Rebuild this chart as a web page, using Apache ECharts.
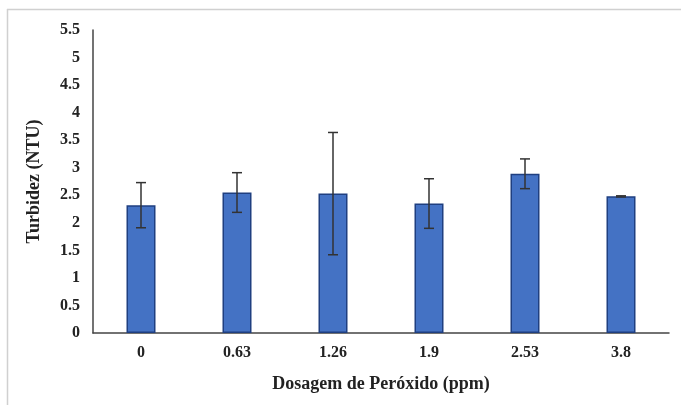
<!DOCTYPE html>
<html>
<head>
<meta charset="utf-8">
<script src="https://cdn.jsdelivr.net/npm/echarts@6/dist/echarts.min.js"></script>
<style>html,body{margin:0;padding:0;background:#fff;}#c{width:681px;height:405px;}</style>
</head>
<body>
<div id="c"></div>
<script>
var categories = ['0', '0.63', '1.26', '1.9', '2.53', '3.8'];
var turbidez = [2.32, 2.55, 2.53, 2.35, 2.89, 2.48];
var desvio = [0.41, 0.36, 1.11, 0.45, 0.27, 0.01];
var yTicks = [0, 0.5, 1, 1.5, 2, 2.5, 3, 3.5, 4, 4.5, 5, 5.5];

var errData = categories.map(function (c, i) {
  return [i, turbidez[i] - desvio[i], turbidez[i] + desvio[i]];
});

var chart = echarts.init(document.getElementById('c'));
var fontFam = '"Liberation Serif", "Times New Roman", serif';
chart.setOption({
  animation: false,
  backgroundColor: '#fff',
  grid: { left: 93, right: 12, top: 30, bottom: 72 },
  graphic: [
    { type: 'line', shape: { x1: 7, y1: 9.5, x2: 681, y2: 9.5 }, style: { stroke: '#d0d0d0', lineWidth: 1.5 } },
    { type: 'line', shape: { x1: 7.5, y1: 9, x2: 7.5, y2: 405 }, style: { stroke: '#d0d0d0', lineWidth: 1.5 } }
  ],
  xAxis: {
    type: 'category',
    data: categories,
    name: 'Dosagem de Peróxido (ppm)',
    nameLocation: 'middle',
    nameGap: 42,
    nameTextStyle: { fontFamily: fontFam, fontWeight: 'bold', fontSize: 18, color: '#222' },
    axisLine: { lineStyle: { color: '#444', width: 1.5 } },
    axisTick: { show: false },
    axisLabel: { fontFamily: fontFam, fontWeight: 'bold', fontSize: 16, color: '#222', margin: 12 }
  },
  yAxis: {
    type: 'value',
    min: 0,
    max: 5.5,
    interval: 0.5,
    name: 'Turbidez (NTU)',
    nameLocation: 'middle',
    nameGap: 50,
    nameTextStyle: { fontFamily: fontFam, fontWeight: 'bold', fontSize: 18, color: '#222' },
    axisLine: { show: true, lineStyle: { color: '#444', width: 1.5 } },
    axisTick: { show: false },
    splitLine: { show: false },
    axisLabel: {
      fontFamily: fontFam, fontWeight: 'bold', fontSize: 16, color: '#222', margin: 13,
      formatter: function (v) {
        for (var k = 0; k < yTicks.length; k++) { if (Math.abs(yTicks[k] - v) < 1e-9) return String(yTicks[k]); }
        return '';
      }
    }
  },
  series: [
    {
      type: 'bar',
      data: turbidez,
      barWidth: 29,
      itemStyle: { color: '#4472C4', borderColor: '#1F3F80', borderWidth: 1.5 }
    },
    {
      type: 'custom',
      data: errData,
      z: 10,
      renderItem: function (params, api) {
        var x = api.value(0);
        var lo = api.coord([x, api.value(1)]);
        var hi = api.coord([x, api.value(2)]);
        var hw = 5;
        var st = { stroke: '#333', lineWidth: 1.5 };
        return {
          type: 'group',
          children: [
            { type: 'line', shape: { x1: hi[0], y1: hi[1], x2: lo[0], y2: lo[1] }, style: st },
            { type: 'line', shape: { x1: hi[0] - hw, y1: hi[1], x2: hi[0] + hw, y2: hi[1] }, style: st },
            { type: 'line', shape: { x1: lo[0] - hw, y1: lo[1], x2: lo[0] + hw, y2: lo[1] }, style: st }
          ]
        };
      }
    }
  ]
});
</script>
</body>
</html>
